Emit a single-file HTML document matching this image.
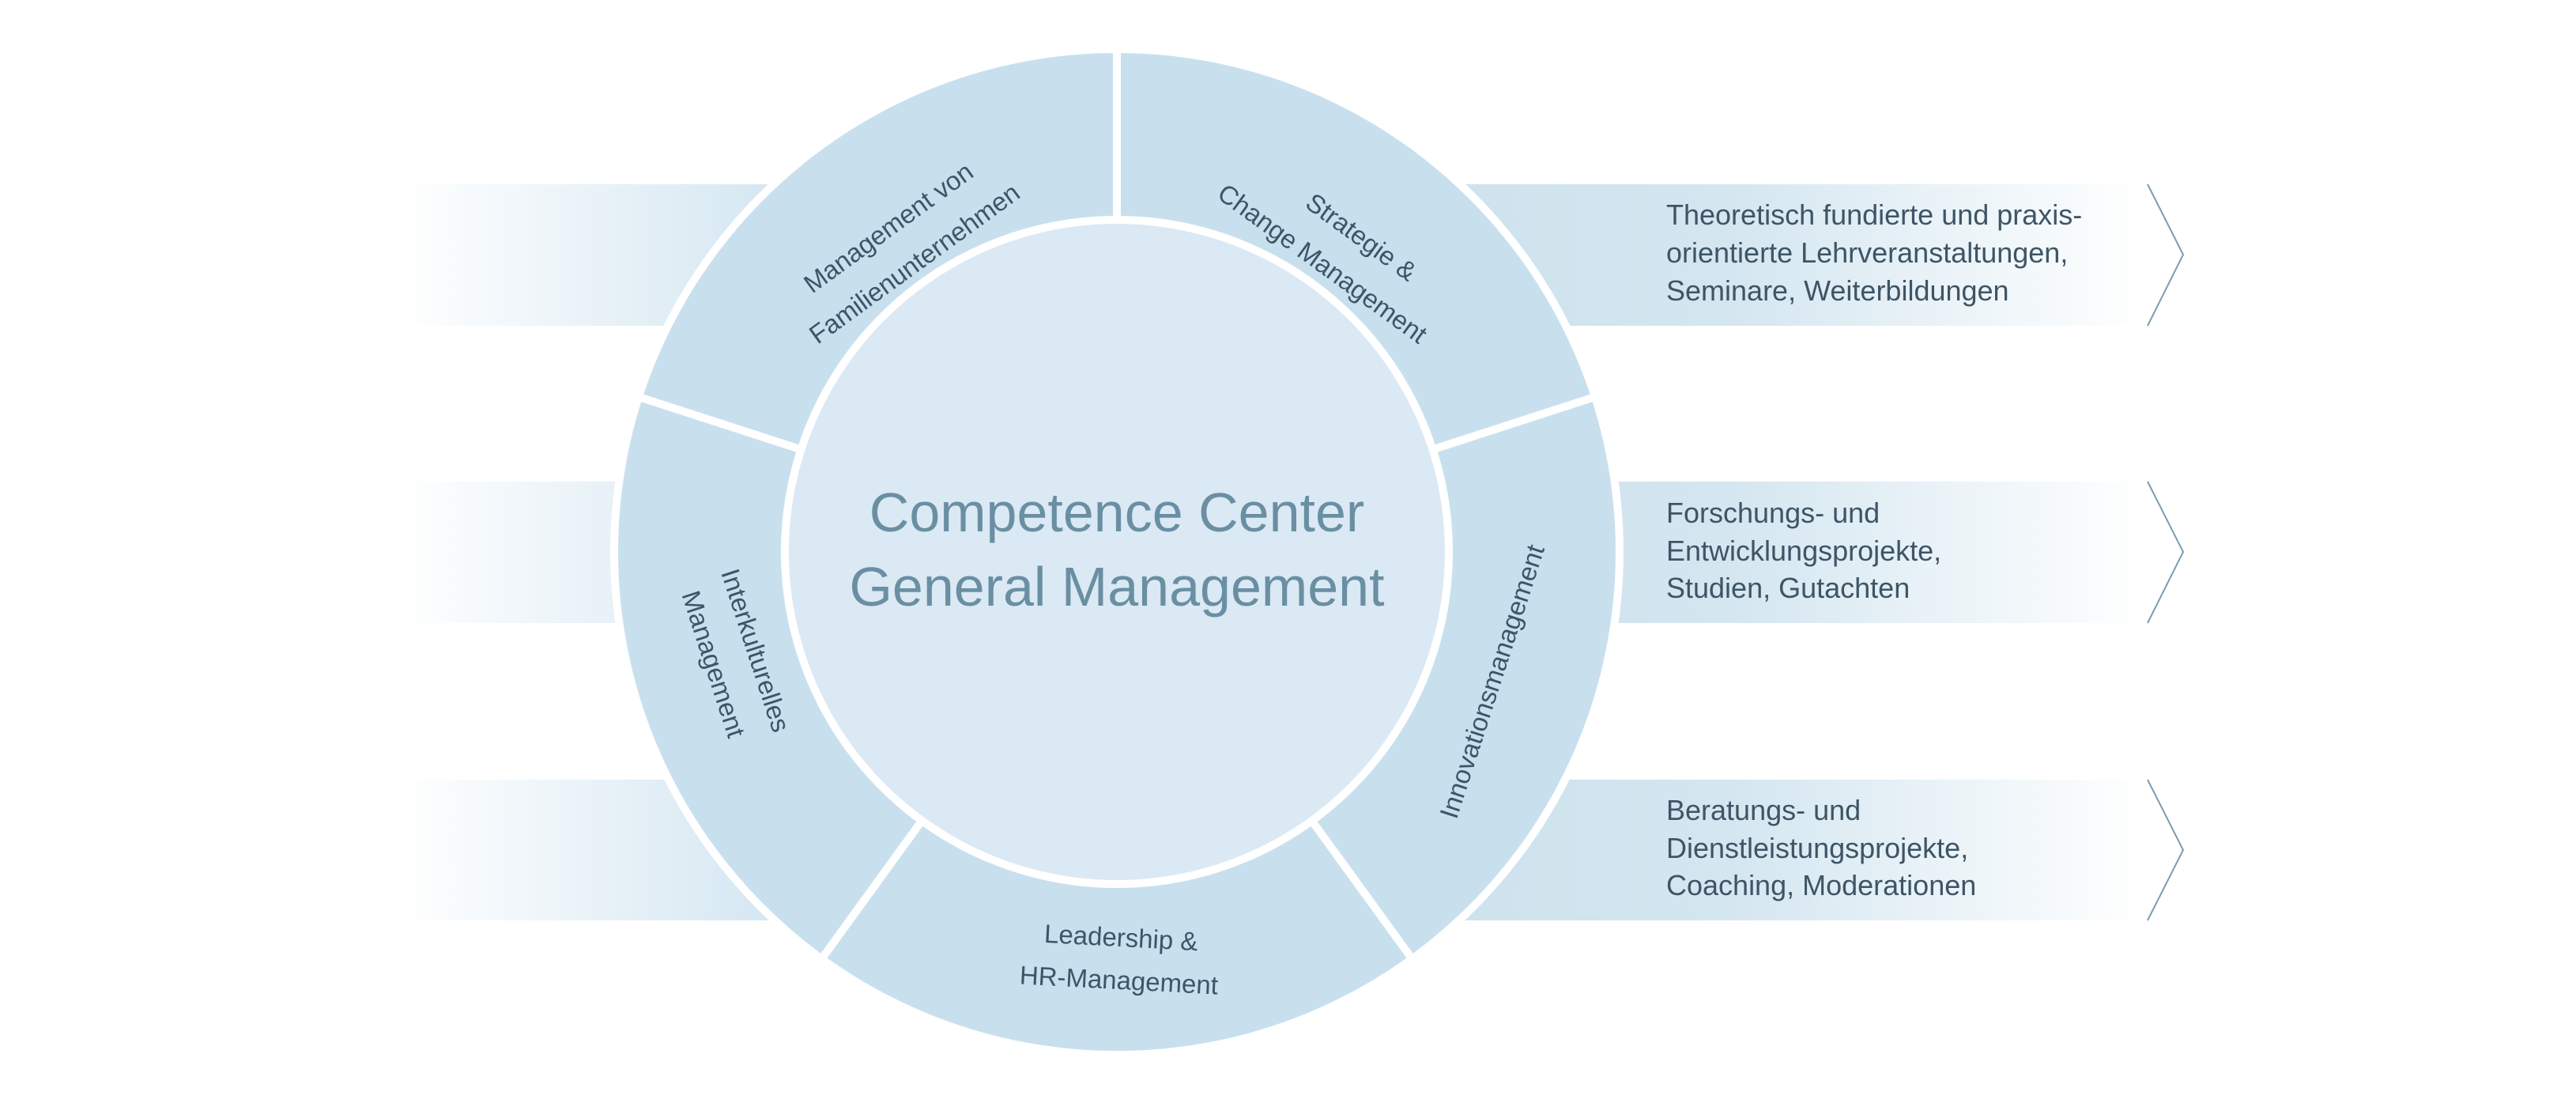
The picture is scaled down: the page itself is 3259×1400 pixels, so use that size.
<!DOCTYPE html>
<html><head><meta charset="utf-8"><style>
html,body{margin:0;padding:0;background:#fff;}
svg{display:block;}
text{font-family:"Liberation Sans",sans-serif;}
</style></head><body>
<svg width="3259" height="1400" viewBox="0 0 3259 1400" xmlns="http://www.w3.org/2000/svg">
<defs>
<linearGradient id="lg" x1="505" x2="1000" y1="0" y2="0" gradientUnits="userSpaceOnUse">
<stop offset="0" stop-color="#ffffff"/><stop offset="1" stop-color="#d3e6f1"/>
</linearGradient>
<linearGradient id="rg" x1="1900" x2="2717" y1="0" y2="0" gradientUnits="userSpaceOnUse">
<stop offset="0" stop-color="#cfe3ee"/><stop offset="0.35" stop-color="#d4e6f0"/><stop offset="1" stop-color="#ffffff"/>
</linearGradient>
</defs>
<rect x="505" y="233" width="700" height="179" fill="url(#lg)"/>
<rect x="505" y="609" width="700" height="179" fill="url(#lg)"/>
<rect x="505" y="986" width="700" height="178" fill="url(#lg)"/>
<rect x="1700" y="233" width="1017" height="179" fill="url(#rg)"/>
<rect x="1700" y="609" width="1017" height="179" fill="url(#rg)"/>
<rect x="1700" y="986" width="1017" height="178" fill="url(#rg)"/>
<g fill="none" stroke="#7b9db0" stroke-width="2">
<polyline points="2717,233 2762,322 2717,412"/>
<polyline points="2717,609 2762,698 2717,788"/>
<polyline points="2717,986 2762,1075 2717,1164"/>
</g>
<circle cx="1413" cy="698" r="641" fill="#fff"/>
<circle cx="1413" cy="698" r="631" fill="#c8e0ee"/>
<g stroke="#fff" stroke-width="10">
<line x1="1413" y1="698" x2="1413" y2="50"/>
<line x1="1413" y1="698" x2="2030" y2="498"/>
<line x1="1413" y1="698" x2="1794" y2="1223"/>
<line x1="1413" y1="698" x2="1032" y2="1223"/>
<line x1="1413" y1="698" x2="796" y2="498"/>
</g>
<circle cx="1413" cy="698" r="425" fill="#fff"/>
<circle cx="1413" cy="698" r="415" fill="#dbe9f4"/>
<text x="1413" y="672" font-size="70" fill="#6a8fa3" text-anchor="middle">Competence Center</text>
<text x="1413" y="766" font-size="70" fill="#6a8fa3" text-anchor="middle">General Management</text>
<g font-size="33" fill="#3d5566" text-anchor="middle">
<g transform="translate(1140,310) rotate(-36)">
<text x="0" y="-16">Management von</text>
<text x="0" y="40">Familienunternehmen</text>
</g>
<g transform="translate(1690,310) rotate(36)">
<text x="20" y="-16">Strategie &amp;</text>
<text x="0" y="40">Change Management</text>
</g>
<g transform="translate(1888,862) rotate(-72)">
<text x="0" y="11">Innovationsmanagement</text>
</g>
<g transform="translate(1417,1211) rotate(3)">
<text x="0" y="-14">Leadership &amp;</text>
<text x="0" y="40">HR-Management</text>
</g>
<g transform="translate(930,831) rotate(72)">
<text x="0" y="-16">Interkulturelles</text>
<text x="0" y="40">Management</text>
</g>
</g>
<g font-size="36" fill="#3d5566">
<text x="2108" y="284">Theoretisch fundierte und praxis-</text>
<text x="2108" y="332">orientierte Lehrveranstaltungen,</text>
<text x="2108" y="380">Seminare, Weiterbildungen</text>
<text x="2108" y="661">Forschungs- und</text>
<text x="2108" y="709">Entwicklungsprojekte,</text>
<text x="2108" y="756">Studien, Gutachten</text>
<text x="2108" y="1037">Beratungs- und</text>
<text x="2108" y="1085">Dienstleistungsprojekte,</text>
<text x="2108" y="1132">Coaching, Moderationen</text>
</g>
</svg>
</body></html>
